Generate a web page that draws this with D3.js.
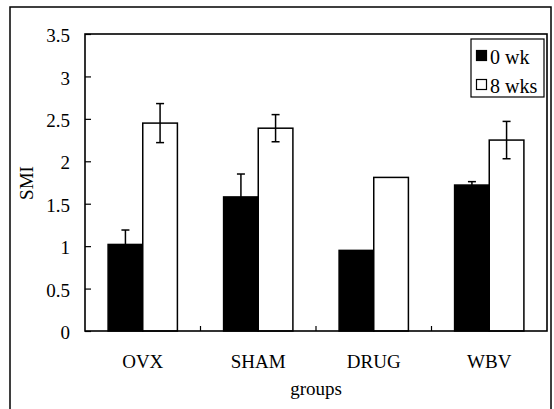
<!DOCTYPE html>
<html>
<head>
<meta charset="utf-8">
<script src="https://cdn.jsdelivr.net/npm/d3@7"></script>
<style>
  body { margin: 0; background: #fff; }
  svg { display: block; }
  text { font-family: "Liberation Serif", "Times New Roman", serif; fill: #000; }
</style>
</head>
<body>
<div id="chart"></div>
<script>
// data
var groups = ["OVX", "SHAM", "DRUG", "WBV"];
var week0 = [1.02, 1.58, 0.95, 1.72];
var week0Err = [0.17, 0.27, 0, 0.04];
var week8 = [2.45, 2.39, 1.81, 2.25];
var week8Err = [0.23, 0.16, 0, 0.22];
var yTicks = [0, 0.5, 1, 1.5, 2, 2.5, 3, 3.5];
var seriesNames = ["0 wk", "8 wks"];

var W = 554, H = 409;
var margin = {top: 34, right: 7, bottom: 78, left: 85};
var width = W - margin.left - margin.right, height = H - margin.top - margin.bottom;

var svg = d3.select("#chart").append("svg")
    .attr("width", W)
    .attr("height", H);

// outer frame
svg.append("rect")
    .attr("x", 10).attr("y", 7)
    .attr("width", 541).attr("height", 420)
    .attr("fill", "none")
    .attr("stroke", "#000")
    .attr("stroke-width", 1.5);

var g = svg.append("g").attr("transform", "translate(" + margin.left + "," + margin.top + ")");

var x = d3.scaleBand().domain(groups).range([0, width]);
var y = d3.scaleLinear().domain([0, 3.5]).range([height, 0]);
var barW = x.step() * 0.3;

var data = groups.map(function (d, i) {
    return [
        {group: d, s: 0, v: week0[i], e: week0Err[i]},
        {group: d, s: 1, v: week8[i], e: week8Err[i]}
    ];
}).flat();

g.selectAll(".bar")
    .data(data)
    .enter().append("rect")
    .attr("class", "bar")
    .attr("x", function (d) { return x(d.group) + x.bandwidth() / 2 - barW + d.s * barW; })
    .attr("y", function (d) { return y(d.v); })
    .attr("width", barW)
    .attr("height", function (d) { return height - y(d.v); })
    .attr("fill", function (d) { return d.s === 0 ? "#000" : "#fff"; })
    .attr("stroke", "#000")
    .attr("stroke-width", 1.5);

// error bars
var err = g.selectAll(".err")
    .data(data.filter(function (d) { return d.e > 0; }))
    .enter().append("g")
    .attr("class", "err")
    .attr("stroke", "#000")
    .attr("stroke-width", 1.5);

function cx(d) { return x(d.group) + x.bandwidth() / 2 - barW / 2 + d.s * barW; }

err.append("line")
    .attr("x1", cx).attr("x2", cx)
    .attr("y1", function (d) { return y(d.v - d.e); })
    .attr("y2", function (d) { return y(d.v + d.e); });
err.append("line")
    .attr("x1", function (d) { return cx(d) - 4; })
    .attr("x2", function (d) { return cx(d) + 4; })
    .attr("y1", function (d) { return y(d.v + d.e); })
    .attr("y2", function (d) { return y(d.v + d.e); });
err.append("line")
    .attr("x1", function (d) { return cx(d) - 4; })
    .attr("x2", function (d) { return cx(d) + 4; })
    .attr("y1", function (d) { return y(d.v - d.e); })
    .attr("y2", function (d) { return y(d.v - d.e); });

// plot frame
g.append("rect")
    .attr("width", width).attr("height", height)
    .attr("fill", "none")
    .attr("stroke", "#000")
    .attr("stroke-width", 1.6);

// y axis, ticks pointing inside
var yAxis = g.append("g")
    .call(d3.axisLeft(y).tickValues(yTicks).tickFormat(d3.format("")).tickSizeInner(-6).tickSizeOuter(0).tickPadding(15));
yAxis.select(".domain").remove();
yAxis.selectAll("line").attr("stroke-width", 1.2);
yAxis.selectAll("text")
    .attr("dy", "0.4em")
    .style("font-family", "Liberation Serif")
    .style("font-size", "19px");

// x tick marks between groups
g.selectAll(".xtick")
    .data(groups.slice(1))
    .enter().append("line")
    .attr("x1", function (d) { return x(d); })
    .attr("x2", function (d) { return x(d); })
    .attr("y1", height)
    .attr("y2", height - 5)
    .attr("stroke", "#000")
    .attr("stroke-width", 1.2);

g.selectAll(".xlab")
    .data(groups)
    .enter().append("text")
    .attr("x", function (d) { return x(d) + x.bandwidth() / 2; })
    .attr("y", height + 37)
    .attr("text-anchor", "middle")
    .style("font-size", "19px")
    .text(function (d) { return d; });

g.append("text")
    .attr("x", width / 2)
    .attr("y", height + 64)
    .attr("text-anchor", "middle")
    .style("font-size", "19px")
    .text("groups");

g.append("text")
    .attr("transform", "rotate(-90)")
    .attr("x", -(183 - margin.top))
    .attr("y", 33 - margin.left)
    .attr("text-anchor", "middle")
    .style("font-size", "19px")
    .text("SMI");

// legend
var lg = svg.append("g").attr("transform", "translate(471,39)");
lg.append("rect")
    .attr("width", 73).attr("height", 58)
    .attr("fill", "#fff")
    .attr("stroke", "#000")
    .attr("stroke-width", 1.2);
seriesNames.forEach(function (name, i) {
    lg.append("rect")
        .attr("x", 5.5).attr("y", 11.5 + i * 29)
        .attr("width", 10).attr("height", 10)
        .attr("fill", i === 0 ? "#000" : "#fff")
        .attr("stroke", "#000")
        .attr("stroke-width", 1.2);
    lg.append("text")
        .attr("x", 19)
        .attr("y", 24.5 + i * 29)
        .style("font-size", "20px")
        .text(name);
});
</script>
</body>
</html>
